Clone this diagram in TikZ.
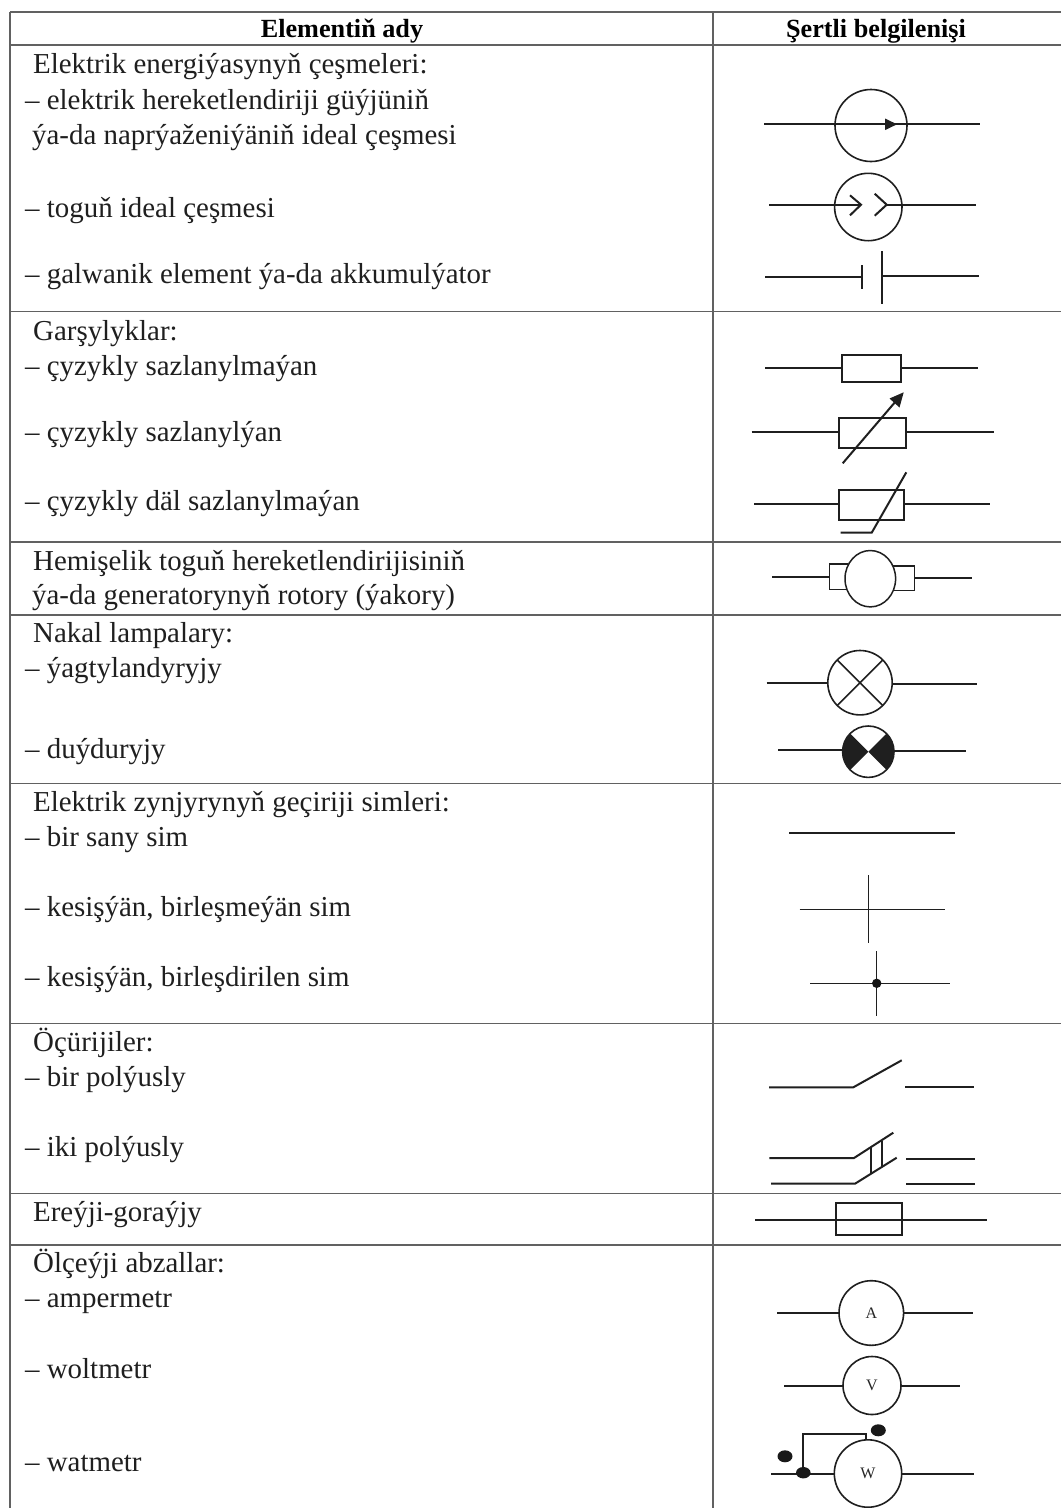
\documentclass[tikz,border=0pt]{standalone}
\usepackage{fontspec}
\setmainfont{Liberation Serif}
\usetikzlibrary{arrows.meta}
\tikzset{
 rule/.style={draw=black!62,line width=1.3pt},
 wire/.style={draw=black!88,line width=2pt},
 thinwire/.style={draw=black!88,line width=1.5pt},
 boxline/.style={draw=black!88,line width=2.2pt},
 ring/.style={draw=black!88,line width=1.6pt,circle,inner sep=0pt,outer sep=0pt},
 txt/.style={anchor=base west,inner sep=0pt,font=\fontsize{28.9}{30}\selectfont,text=black!88},
 hdr/.style={anchor=base,inner sep=0pt,font=\fontsize{26.2}{30}\selectfont\bfseries,text=black},
 lett/.style={font=\fontsize{16}{16}\selectfont,text=black!85},
 blob/.style={fill=black!90,draw=none},
}
\begin{document}
\begin{tikzpicture}[x=1pt,y=-1pt]
\useasboundingbox (0,0) rectangle (1061,1508);
\fill[white] (0,0) rectangle (1061,1508);
% table rules
\foreach \yy in {12,45,311.7,542,615,783.5,1023.5,1193.7}{\draw[rule] (10,\yy) -- (1061,\yy);}
\draw[rule,line width=1.8pt] (10,1245) -- (1061,1245);
\draw[rule] (10,12) -- (10,1508);
\draw[rule] (713,12) -- (713,1508);
% header
\node[hdr] (h1) at (342,37) {Elementiň ady};
\node[hdr] (h2) at (876,37) {Şertli belgilenişi};
% left column
\node[txt] (t1) at (33,73) {Elektrik energiýasynyň çeşmeleri:};
\node[txt] (t2) at (25,109) {– elektrik hereketlendiriji güýjüniň};
\node[txt] (t3) at (32,144) {ýa-da naprýaženiýäniň ideal çeşmesi};
\node[txt] (t4) at (25,217) {– toguň ideal çeşmesi};
\node[txt] (t5) at (25,283) {– galwanik element ýa-da akkumulýator};
\node[txt] (t6) at (33,340) {Garşylyklar:};
\node[txt] (t7) at (25,375) {– çyzykly sazlanylmaýan};
\node[txt] (t8) at (25,441.7) {– çyzykly sazlanylýan};
\node[txt] (t9) at (25,510.7) {– çyzykly däl sazlanylmaýan};
\node[txt] (t10) at (33,570.7) {Hemişelik toguň hereketlendirijisiniň};
\node[txt] (t11) at (32,604) {ýa-da generatorynyň rotory (ýakory)};
\node[txt] (t12) at (33,642.7) {Nakal lampalary:};
\node[txt] (t13) at (25,677) {– ýagtylandyryjy};
\node[txt] (t14) at (25,758.3) {– duýduryjy};
\node[txt] (t15) at (33,811) {Elektrik zynjyrynyň geçiriji simleri:};
\node[txt] (t16) at (25,846.7) {– bir sany sim};
\node[txt] (t17) at (25,916) {– kesişýän, birleşmeýän sim};
\node[txt] (t18) at (25,986) {– kesişýän, birleşdirilen sim};
\node[txt] (t19) at (33,1051.7) {Öçürijiler:};
\node[txt] (t20) at (25,1086.7) {– bir polýusly};
\node[txt] (t21) at (25,1156) {– iki polýusly};
\node[txt] (t22) at (33,1221) {Ereýji-goraýjy};
\node[txt] (t23) at (33,1272.7) {Ölçeýji abzallar:};
\node[txt] (t24) at (25,1307) {– ampermetr};
\node[txt] (t25) at (25,1378) {– woltmetr};
\node[txt] (t26) at (25,1471.7) {– watmetr};
% EMF source
\node[ring,minimum size=72pt] (emf) at (871,125.5) {};
\draw[wire] (764,124.3) -- (980,124.3);
\fill[black!88] (897,124.3) -- (885,118.5) -- (885,130.1) -- cycle;
% current source
\node[ring,minimum size=67.4pt] (cur) at (868.3,207) {};
\draw[wire] (769,204.6) -- (861,204.6);
\draw[wire] (850,195.3) -- (861,204.7) -- (850,215.3);
\draw[wire] (874.7,193.7) -- (886.7,204.7) -- (874.7,215.7);
\draw[wire] (886.7,204.7) -- (976,204.7);
% cell
\draw[wire] (765,277.3) -- (861.7,277.3);
\draw[wire] (861.7,265) -- (861.7,288.7);
\draw[wire] (882.3,251.3) -- (882.3,303.7);
\draw[wire] (882.3,276) -- (979,276);
% fixed resistor
\draw[wire] (765,368.3) -- (842,368.3);
\draw[wire] (901,368) -- (978,368);
\draw[wire] (842,355.3) rectangle (901,382.3);
% variable resistor
\draw[wire] (751.7,432.3) -- (839,432.3);
\draw[wire] (906,432) -- (994,432);
\draw[boxline] (839,418) rectangle (906,448.3);
\draw[wire] (842.7,463.3) -- (896,401);
\fill[black!88] (903.7,392.3) -- (899.5,407.5) -- (889.5,398.5) -- cycle;
% nonlinear resistor
\draw[wire] (754,504.3) -- (839,504.3);
\draw[wire] (904,504) -- (989.7,504);
\draw[boxline] (839,490) rectangle (904,520);
\draw[wire] (840.7,532.7) -- (871.7,532.7) -- (906.3,472.3);
% rotor
\draw[thinwire,line width=1.7pt] (772,576.7) -- (829.7,576.7);
\draw[thinwire,line width=1.7pt] (914.7,578.3) -- (972,578.3);
\draw[thinwire] (848,564) -- (829.7,564) -- (829.7,589.7) -- (848,589.7);
\draw[thinwire] (893,566) -- (914.7,566) -- (914.7,590.7) -- (893,590.7);
\draw[thinwire,fill=white] (870.3,578.7) ellipse [x radius=25.3,y radius=28.2];
% lamps
\node[ring,minimum size=64.4pt] (lamp) at (860,682.7) {};
\draw[wire] (766.7,682.7) -- (lamp.west);
\draw[wire] (lamp.east |- 0,683.7) -- (976.7,683.7);
\draw[thinwire] (lamp.45) -- (lamp.225);
\draw[thinwire] (lamp.135) -- (lamp.315);
\begin{scope}
\clip (868.3,751.7) circle (25.7);
\fill[black!88] (868.3,751.7) -- (898.3,721.7) -- (898.3,781.7) -- cycle;
\fill[black!88] (868.3,751.7) -- (838.3,721.7) -- (838.3,781.7) -- cycle;
\end{scope}
\node[ring,minimum size=51.4pt] (sig) at (868.3,751.7) {};
\draw[wire] (778,749.7) -- (842.6,749.7);
\draw[wire] (894,751) -- (965.7,751);
% wires
\draw[wire] (789,833) -- (955,833);
\draw[thinwire] (799.7,909.3) -- (944.7,909.3);
\draw[thinwire] (868.7,875.3) -- (868.7,943.3);
\draw[thinwire] (810,983.3) -- (950.3,983.3);
\draw[thinwire] (876.7,951) -- (876.7,1016.3);
\fill[black!92] (876.7,983.3) circle (4.7);
% switches
\draw[wire] (769,1087.3) -- (853.3,1087.3) -- (901.7,1060.3);
\draw[wire] (905,1087.3) -- (974,1087.3);
\draw[wire] (769.3,1158) -- (854,1158) -- (893.3,1132.7);
\draw[wire] (771,1183.7) -- (855,1183.7) -- (896.7,1157.7);
\draw[wire] (870.7,1146.7) -- (870.7,1174);
\draw[wire] (882,1140.7) -- (882,1166.7);
\draw[wire] (906,1158.7) -- (975,1158.7);
\draw[wire] (906,1184.3) -- (975,1184.3);
% fuse
\draw[wire] (755,1219.7) -- (987.3,1219.7);
\draw[boxline] (836,1203) rectangle (902.3,1235.3);
% meters
\node[ring,lett,minimum size=64.6pt] (amm) at (871.3,1313) {A};
\draw[wire] (777,1313) -- (amm.west);
\draw[wire] (amm.east) -- (973.3,1313);
\node[ring,lett,minimum size=58pt] (vol) at (872,1385.5) {V};
\draw[wire] (784,1385.5) -- (vol.west);
\draw[wire] (vol.east) -- (960,1385.5);
\node[ring,lett,minimum size=67.4pt] (wat) at (868,1473.5) {W};
\draw[wire] (771,1474.3) -- (wat.west |- 0,1474.3);
\draw[wire] (wat.east |- 0,1474.3) -- (973.7,1474.3);
\draw[wire] (803.3,1474) -- (803.3,1433.7) -- (866.3,1433.7) -- (866.3,1440);
\fill[blob] (803.3,1472.7) ellipse [x radius=7.3,y radius=5.7];
\fill[blob] (785,1456.3) ellipse [x radius=7.5,y radius=6];
\fill[blob] (878.3,1430.3) ellipse [x radius=7.5,y radius=6];
\end{tikzpicture}
\end{document}
